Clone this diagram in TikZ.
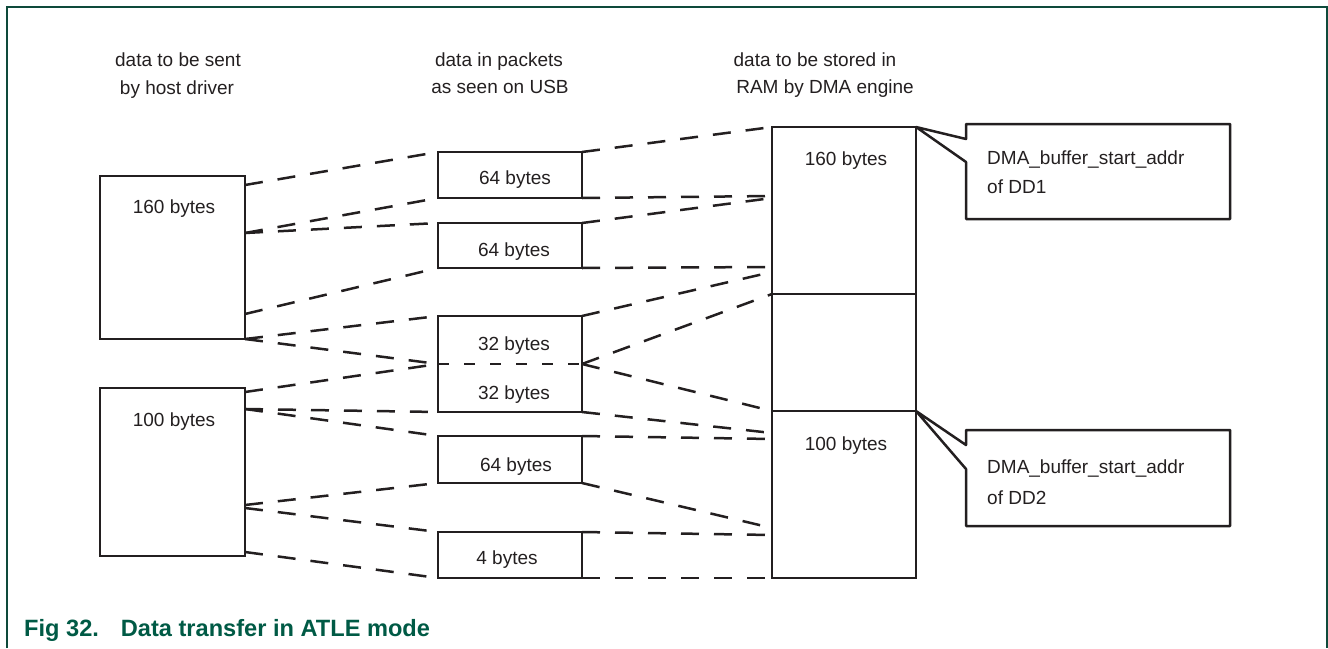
\documentclass[tikz,border=0pt]{standalone}
\usepackage{fontspec}
\setmainfont{Liberation Sans}
\usetikzlibrary{calc}
\definecolor{ink}{HTML}{231F20}
\definecolor{framegreen}{HTML}{0E4A3B}
\definecolor{capgreen}{HTML}{005A45}
\begin{document}
\begin{tikzpicture}[x=1pt,y=-1pt,
  box/.style={draw=ink,line width=2.5pt,inner sep=0pt,outer sep=0pt},
  lbl/.style={font=\fontsize{19}{23}\selectfont,text=ink,inner sep=0pt,anchor=base},
  note/.style={lbl,anchor=base west},
  link/.style={draw=ink,line width=2.5pt,dash pattern=on 18pt off 15pt},
  dotline/.style={draw=ink,line width=2.5pt,dash pattern=on 11pt off 15pt},
  callout/.style={draw=ink,line width=2.5pt,line join=round},
  figcaption/.style={font=\fontsize{23.6}{28}\selectfont\bfseries,text=capgreen,anchor=base west,inner sep=0pt}]
\useasboundingbox (0,0) rectangle (1328,648);
% frame
\draw[framegreen,line width=2pt] (7,648) -- (7,7) -- (1327,7) -- (1327,648);

% headers
\node[lbl] (h1a) at (178,66) {data to be sent};
\node[lbl] (h1b) at (177,94) {by host driver};
\node[lbl] (h2a) at (499,66) {data in packets};
\node[lbl] (h2b) at (500,93) {as seen on USB};
\node[lbl] (h3a) at (815,66) {data to be stored in};
\node[lbl] (h3b) at (825,93) {RAM by DMA engine};

% host boxes
\node[box,minimum width=145pt,minimum height=163pt] (A) at (172.5,257.5) {};
\node[box,minimum width=145pt,minimum height=168pt] (B) at (172.5,472) {};
\node[lbl] (At) at (174,213) {160 bytes};
\node[lbl] (Bt) at (174,426) {100 bytes};

% packets
\node[box,minimum width=144pt,minimum height=46pt] (P1) at (510,175) {};
\node[box,minimum width=144pt,minimum height=45pt] (P2) at (510,245.5) {};
\node[box,minimum width=144pt,minimum height=96pt] (P3) at (510,364) {};
\node[box,minimum width=144pt,minimum height=47pt] (P4) at (510,459.5) {};
\node[box,minimum width=144pt,minimum height=46pt] (P5) at (510,555) {};
\node[lbl] (P1t) at (515,184) {64 bytes};
\node[lbl] (P2t) at (514,256) {64 bytes};
\node[lbl] (P3a) at (514,350) {32 bytes};
\node[lbl] (P3b) at (514,399) {32 bytes};
\node[lbl] (P4t) at (516,471) {64 bytes};
\node[lbl] (P5t) at (507,564) {4 bytes};
\draw[dotline] (P3.west) -- (P3.east);

% RAM column
\node[box,minimum width=144pt,minimum height=167pt] (R1) at (844,210.5) {};
\node[box,minimum width=144pt,minimum height=117pt] (R2) at (844,352.5) {};
\node[box,minimum width=144pt,minimum height=167pt] (R3) at (844,494.5) {};
\node[lbl] (R1t) at (846,165) {160 bytes};
\node[lbl] (R3t) at (846,450) {100 bytes};

% callouts
\node[minimum width=264pt,minimum height=95pt,inner sep=0pt,outer sep=0pt] (C1) at (1098,171.5) {};
\node[minimum width=264pt,minimum height=96pt,inner sep=0pt,outer sep=0pt] (C2) at (1098,478) {};
\draw[callout] (R1.north east) -- ($(C1.north west)+(0,15)$) -- (C1.north west) -- (C1.north east)
  -- (C1.south east) -- (C1.south west) -- ($(C1.north west)+(0,38)$) -- cycle;
\draw[callout] (R3.north east) -- ($(C2.north west)+(0,15)$) -- (C2.north west) -- (C2.north east)
  -- (C2.south east) -- (C2.south west) -- ($(C2.north west)+(0,39)$) -- cycle;
\node[note] (C1a) at (987,164) {DMA\_buffer\_start\_addr};
\node[note] (C1b) at (987,193) {of DD1};
\node[note] (C2a) at (987,473) {DMA\_buffer\_start\_addr};
\node[note] (C2b) at (987,504) {of DD2};

% host -> packets
\draw[link] ($(A.north east)+(0,9)$) -- (P1.north west);
\draw[link] ($(A.north east)+(0,57)$) -- (P1.south west);
\draw[link] ($(A.north east)+(0,57)$) -- (P2.north west);
\draw[link] ($(A.north east)+(0,138)$) -- (P2.south west);
\draw[link] (A.south east) -- (P3.north west);
\draw[link] (A.south east) -- (P3.west);
\draw[link] ($(B.north east)+(0,4)$) -- (P3.west);
\draw[link] ($(B.north east)+(0,21)$) -- (P3.south west);
\draw[link] ($(B.north east)+(0,21)$) -- (P4.north west);
\draw[link] ($(B.north east)+(0,117)$) -- (P4.south west);
\draw[link] ($(B.north east)+(0,120)$) -- (P5.north west);
\draw[link] ($(B.north east)+(0,164)$) -- (P5.south west);

% packets -> RAM
\draw[link] (P1.north east) -- (R1.north west);
\draw[link] (P1.south east) -- ($(R1.north west)+(0,69)$);
\draw[link] (P2.north east) -- ($(R1.north west)+(0,71)$);
\draw[link] (P2.south east) -- ($(R1.north west)+(0,140)$);
\draw[link] (P3.north east) -- ($(R1.north west)+(0,145)$);
\draw[link] (P3.east) -- (R2.north west);
\draw[link] (P3.east) -- (R3.north west);
\draw[link] (P3.south east) -- ($(R3.north west)+(0,22)$);
\draw[link] (P4.north east) -- ($(R3.north west)+(0,28)$);
\draw[link] (P4.south east) -- ($(R3.north west)+(0,117)$);
\draw[link] (P5.north east) -- ($(R3.north west)+(0,124)$);
\draw[link] (P5.south east) -- (R3.south west);

% caption
\node[figcaption] (figcap) at (24,636) {Fig 32.\hspace*{22pt}Data transfer in ATLE mode};
\end{tikzpicture}
\end{document}
